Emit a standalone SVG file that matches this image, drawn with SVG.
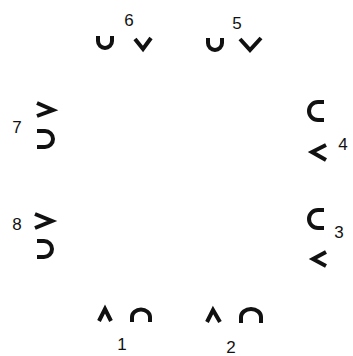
<svg xmlns="http://www.w3.org/2000/svg" width="353" height="356" viewBox="0 0 353 356">
<style>
.s{fill:none;stroke:#111;stroke-width:4;stroke-linecap:butt;stroke-linejoin:miter}
.n{font-family:"Liberation Sans",Arial,sans-serif;font-size:17px;fill:#111;text-anchor:middle}
</style>
<rect width="353" height="356" fill="#fff"/>
<g id="p6">
<path class="s" d="M98,36 V41 A7,7 0 0 0 112,41 V36"/>
<path class="s" d="M135,39 L143,49 L151,38"/>
<text class="n" x="129" y="26">6</text>
</g>
<g id="p5">
<path class="s" d="M208,38 V43 A7,7 0 0 0 222,43 V38"/>
<path class="s" d="M240,39 L250,50 L261,38"/>
<text class="n" x="237" y="29">5</text>
</g>
<g id="p7">
<path class="s" d="M37,103 L53,110 L37,116"/>
<path class="s" d="M37,131 H45 A8,8 0 0 1 45,147 H37"/>
<text class="n" x="17" y="133">7</text>
</g>
<g id="p8">
<path class="s" d="M35,214 L52,221 L35,228"/>
<path class="s" d="M37,241 H44 A8,8 0 0 1 44,257 H37"/>
<text class="n" x="17" y="230">8</text>
</g>
<g id="p4">
<path class="s" d="M324,102 H318 A9,9 0 0 0 318,120 H324"/>
<path class="s" d="M326,145 L312,152 L326,160"/>
<text class="n" x="343" y="150">4</text>
</g>
<g id="p3">
<path class="s" d="M324,210 H318 A9,9 0 0 0 318,228 H324"/>
<path class="s" d="M326,252 L313,259 L326,266"/>
<text class="n" x="339" y="238">3</text>
</g>
<g id="p1">
<path class="s" d="M99,321 L105,309 L111,321"/>
<path class="s" d="M132,322 V317 A9,7.5 0 0 1 150,317 V322"/>
<text class="n" x="122" y="350">1</text>
</g>
<g id="p2">
<path class="s" d="M207,322 L213,310 L220,322"/>
<path class="s" d="M241,323 V317 A10,8 0 0 1 261,317 V323"/>
<text class="n" x="231" y="353">2</text>
</g>
<g id="connectors"></g>
</svg>
